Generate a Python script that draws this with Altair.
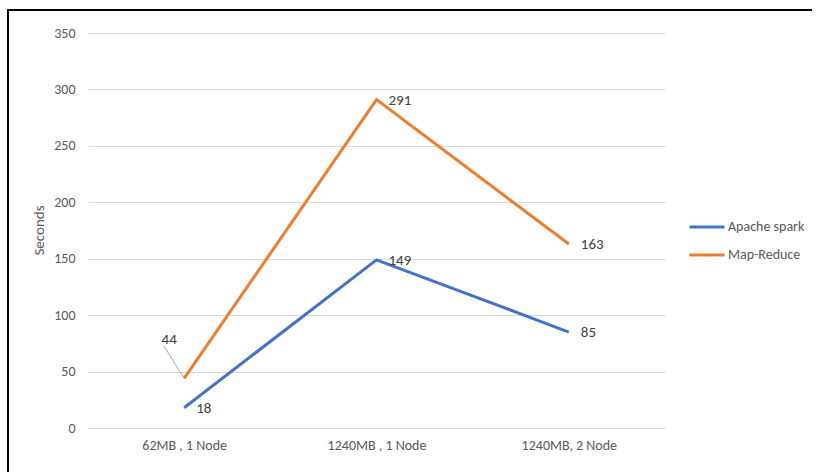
import altair as alt
import pandas as pd

categories = ["62MB , 1 Node", "1240MB , 1 Node", "1240MB, 2 Node"]
spark = [18, 149, 85]
mapreduce = [44, 291, 163]
series_names = ["Apache spark", "Map-Reduce"]
colors = ["#4472C4", "#ED7D31"]
y_ticks = [0, 50, 100, 150, 200, 250, 300, 350]

rows = []
for s, vals in zip(series_names, [spark, mapreduce]):
    for c, v in zip(categories, vals):
        rows.append({"cat": c, "series": s, "value": v})
df = pd.DataFrame(rows)

FONT = "Carlito, Calibri, 'Liberation Sans', sans-serif"

x_enc = alt.X("cat:N", sort=categories,
              scale=alt.Scale(type="point", padding=0.5),
              axis=alt.Axis(title=None, labelAngle=0, labelAlign="center",
                            domain=False, ticks=False,
                            labelPadding=17, labelFontSize=14, labelColor="#595959",
                            labelFont=FONT, grid=False))
y_enc = alt.Y("value:Q", scale=alt.Scale(domain=[0, 350], nice=False),
              axis=alt.Axis(values=y_ticks, title="Seconds", domain=False, ticks=False,
                            labelPadding=13, labelFontSize=14, labelColor="#595959",
                            labelFont=FONT, gridColor="#D9D9D9", gridWidth=1,
                            titleFontSize=15, titleFont=FONT, titleColor="#595959",
                            titleFontWeight="normal", titleX=-50, titleY=197,
                            titleBaseline="middle"))

base = alt.Chart(df)

lines = base.mark_line(strokeWidth=3).encode(
    x=x_enc, y=y_enc,
    color=alt.Color("series:N", sort=series_names,
                    scale=alt.Scale(domain=series_names, range=colors),
                    legend=alt.Legend(title=None, orient="none", legendX=600, legendY=175,
                                      symbolType="stroke", symbolStrokeWidth=3,
                                      symbolSize=1225, labelFontSize=14, labelFont=FONT,
                                      labelColor="#595959", labelOffset=2, rowPadding=2))
)

labels_main = base.transform_filter(alt.datum.value != 44).mark_text(
    align="left", baseline="middle", dx=12, fontSize=15, font=FONT, color="#404040"
).encode(x=alt.X("cat:N", sort=categories), y="value:Q", text="value:Q")

labels_44 = base.transform_filter(alt.datum.value == 44).mark_text(
    align="center", baseline="middle", dx=-15, dy=-39, fontSize=15, font=FONT, color="#404040"
).encode(x=alt.X("cat:N", sort=categories), y="value:Q", text="value:Q")

leader = base.transform_filter(alt.datum.value == 44).mark_rule(
    color="#A6A6A6", strokeWidth=1
).encode(x=alt.X("cat:N", sort=categories), y="value:Q",
         x2=alt.value(76), y2=alt.value(313))

frame_src = alt.Chart(pd.DataFrame({"a": [0]}))
frame_top = frame_src.mark_rect(fill="black", stroke=None).encode(
    x=alt.value(-81), x2=alt.value(724), y=alt.value(-24), y2=alt.value(-22))
frame_left = frame_src.mark_rect(fill="black", stroke=None).encode(
    x=alt.value(-81), x2=alt.value(-79), y=alt.value(-24), y2=alt.value(460))

chart = alt.layer(leader, lines, labels_main, labels_44, frame_top, frame_left).properties(
    width=577, height=395,
    autosize=alt.AutoSizeParams(type="none"),
    padding={"left": 88, "top": 33, "right": 152, "bottom": 44},
    background="white",
).configure_view(stroke=None)

chart.save("out.html", embed_options={"renderer": "svg", "actions": False})
